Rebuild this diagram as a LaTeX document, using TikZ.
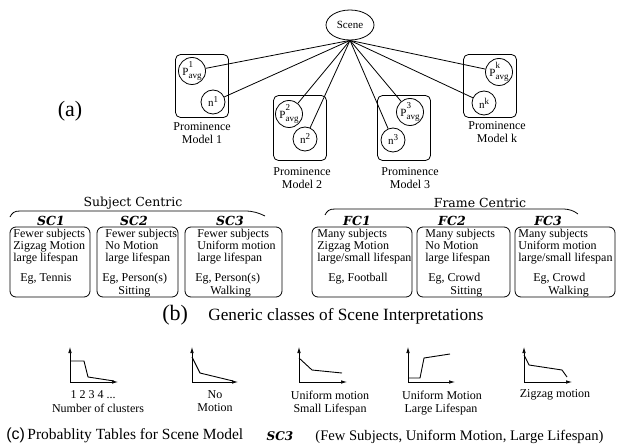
\documentclass[tikz,border=0pt]{standalone}
\usepackage{fontspec}
\setmainfont{Liberation Serif}
\newfontfamily\headfont{DejaVu Serif}
\newfontfamily\capsans{Liberation Sans}
\usetikzlibrary{arrows.meta,shapes.geometric}
\newcommand{\pav}[1]{P\rlap{\raisebox{7.6pt}{\fontsize{9}{9}\selectfont #1}}\raisebox{-3pt}{\fontsize{9}{9}\selectfont avg}}
\newcommand{\nsup}[1]{n\raisebox{4pt}{\fontsize{9}{9}\selectfont #1}}
\begin{document}
\begin{tikzpicture}[x=1pt,y=-1pt,
  line width=0.8pt,
  circ/.style={draw, circle, minimum size=27pt, inner sep=0pt, font=\fontsize{11}{11}\selectfont},
  pbox/.style={draw, rounded corners=5pt, minimum width=53pt, minimum height=63pt, inner sep=0pt},
  cbox/.style={draw, rounded corners=6pt, minimum height=70pt, inner sep=0pt},
  bt/.style={anchor=mid west, inner sep=0pt, font=\fontsize{12}{12}\selectfont},
  plbl/.style={align=center, inner sep=0pt, font=\fontsize{12}{13}\selectfont},
  hdr/.style={inner sep=0pt, font=\headfont\fontsize{12.5}{12.5}\selectfont},
  sclab/.style={inner sep=0pt, font=\headfont\bfseries\itshape\fontsize{12.5}{12.5}\selectfont},
  glbl/.style={inner sep=0pt, font=\fontsize{12}{12}\selectfont},
  axis/.style={-{Latex[length=6pt,width=3.5pt]}, line width=0.7pt},
  curve/.style={line width=0.9pt},
  big/.style={inner sep=0pt, font=\fontsize{22}{22}\selectfont}
]
\useasboundingbox (0,0) rectangle (617,446);

% ---------- (a) ----------
\node[draw, ellipse, minimum width=48pt, minimum height=30pt, inner sep=0pt,
      font=\fontsize{11}{11}\selectfont] (scene) at (350,25) {Scene};

\node[pbox] (box1) at (202,86) {};
\node[pbox, minimum height=65pt] (box2) at (300,128) {};
\node[pbox, minimum height=65pt] (box3) at (404,128) {};
\node[pbox] (boxk) at (490,86) {};

\node[circ] (p1) at (192,71) {\pav{1}};
\node[circ, minimum size=24pt] (n1) at (213,102) {\nsup{1}};
\node[circ] (p2) at (289,114) {\pav{2}};
\node[circ, minimum size=24pt] (n2) at (305,139) {\nsup{2}};
\node[circ] (p3) at (410,112) {\pav{3}};
\node[circ, minimum size=24pt] (n3) at (393,140) {\nsup{3}};
\node[circ] (pk) at (499,72) {\pav{k}};
\node[circ, minimum size=24pt] (nk) at (484,103) {\nsup{k}};

\foreach \t in {p1,n1,p2,n2,p3,n3,pk,nk} \draw (scene.south) -- (\t);

\node[plbl] (l1) at (202,133) {Prominence\\Model 1};
\node[plbl] (l2) at (302,178) {Prominence\\Model 2};
\node[plbl] (l3) at (410,178) {Prominence\\Model 3};
\node[plbl] (lk) at (497,132) {Prominence\\Model k};

\node[big] (la) at (70,111) {(a)};

% ---------- (b) ----------
\node[hdr] (subj) at (133,203) {Subject Centric};
\node[hdr] (frame) at (480,203) {Frame Centric};
\draw (10,217) .. controls (12,213) and (14,211) .. (20,211) -- (245,211) .. controls (253,211) and (259,213) .. (265,216);
\draw (325,215) .. controls (327,211) and (329,209) .. (335,209) -- (562,209) .. controls (570,209) and (574,211) .. (578,214);

\node[sclab] (h1) at (51,221) {SC1};
\node[sclab] (h2) at (134,221) {SC2};
\node[sclab] (h3) at (230,221) {SC3};
\node[sclab] (h4) at (357,221) {FC1};
\node[sclab] (h5) at (452,221) {FC2};
\node[sclab] (h6) at (548,221) {FC3};

\node[cbox, minimum width=80pt] (sc1) at (50,262) {};
\node[cbox, minimum width=81pt] (sc2) at (137.5,262) {};
\node[cbox, minimum width=97pt] (sc3) at (233.5,262) {};
\node[cbox, minimum width=100pt] (fc1) at (362,262) {};
\node[cbox, minimum width=93pt] (fc2) at (463.5,262) {};
\node[cbox, minimum width=100pt] (fc3) at (565,262) {};

\node[bt] (a1) at (13,235) {Fewer subjects};
\node[bt] (a2) at (13,247) {Zigzag Motion};
\node[bt] (a3) at (13,259) {large lifespan};
\node[bt] (a4) at (20,279) {Eg, Tennis};

\node[bt] (b1) at (105,235) {Fewer subjects};
\node[bt] (b2) at (105,247) {No Motion};
\node[bt] (b3) at (105,259) {large lifespan};
\node[bt] (b4) at (102,279) {Eg, Person(s)};
\node[bt] (b5) at (118,292) {Sitting};

\node[bt] (c1) at (197,235) {Fewer subjects};
\node[bt] (c2) at (197,247) {Uniform motion};
\node[bt] (c3) at (197,259) {large lifespan};
\node[bt] (c4) at (195,279) {Eg, Person(s)};
\node[bt] (c5) at (210,292) {Walking};

\node[bt] (d1) at (317,235) {Many subjects};
\node[bt] (d2) at (317,247) {Zigzag Motion};
\node[bt] (d3) at (317,259) {large/small lifespan};
\node[bt] (d4) at (328,279) {Eg, Football};

\node[bt] (e1) at (425,235) {Many subjects};
\node[bt] (e2) at (425,247) {No Motion};
\node[bt] (e3) at (425,259) {large lifespan};
\node[bt] (e4) at (428,279) {Eg, Crowd};
\node[bt] (e5) at (450,292) {Sitting};

\node[bt] (f1) at (518,235) {Many subjects};
\node[bt] (f2) at (518,247) {Uniform motion};
\node[bt] (f3) at (518,259) {large/small lifespan};
\node[bt] (f4) at (533,279) {Eg, Crowd};
\node[bt] (f5) at (548,292) {Walking};

\node[big, anchor=west] (lb) at (162,315) {(b)};
\node[inner sep=0pt, anchor=west, font=\fontsize{17.2}{17}\selectfont] (capb) at (208,316) {Generic classes of Scene Interpretations};

% ---------- (c) graphs ----------
\coordinate (g1) at (70,382);
\draw[axis] (g1) -- ++(0,-35);
\draw[axis] (g1) -- ++(48,0);
\draw[curve] (70,361) -- (84,361) -- (88,377) -- (114,381);
\node[glbl] (t1a) at (93,395) {1 2 3 4 ...};
\node[glbl] (t1b) at (98,408) {Number of clusters};

\coordinate (g2) at (192,382);
\draw[axis] (g2) -- ++(0,-35);
\draw[axis] (g2) -- ++(46,0);
\draw[curve] (192,357) -- (200,373) -- (233,381);
\node[glbl] (t2a) at (215,395) {No};
\node[glbl] (t2b) at (215,408) {Motion};

\coordinate (g3) at (299,382);
\draw[axis] (g3) -- ++(0,-35);
\draw[axis] (g3) -- ++(48,0);
\draw[curve] (299,358) -- (312,370) -- (342,373);
\node[glbl] (t3a) at (330,395) {Uniform motion};
\node[glbl] (t3b) at (330,410) {Small Lifespan};

\coordinate (g4) at (408,382);
\draw[axis] (g4) -- ++(0,-35);
\draw[axis] (g4) -- ++(47,0);
\draw[curve] (408,378) -- (420,378) -- (424,358) -- (450,354);
\node[glbl] (t4a) at (442,395) {Uniform Motion};
\node[glbl] (t4b) at (441,410) {Large Lifespan};

\coordinate (g5) at (524,382);
\draw[axis] (g5) -- ++(0,-35);
\draw[axis] (g5) -- ++(48,0);
\draw[curve] (524,355) -- (529,365) -- (562,370) -- (567,377);
\node[glbl] (t5a) at (555,395) {Zigzag motion};

\node[inner sep=0pt, anchor=west, font=\capsans\fontsize{16}{16}\selectfont] (lc) at (6,435) {(c)};
\node[inner sep=0pt, anchor=west, font=\fontsize{15.5}{15.5}\selectfont] (capc) at (27,436) {Probablity Tables for Scene Model};
\node[sclab, font=\headfont\bfseries\itshape\fontsize{12}{12}\selectfont] (sc3c) at (280,436) {SC3};
\node[inner sep=0pt, anchor=west, font=\fontsize{14.6}{14.6}\selectfont] (capc2) at (315,437) {(Few Subjects, Uniform Motion, Large Lifespan)};
\end{tikzpicture}
\end{document}
